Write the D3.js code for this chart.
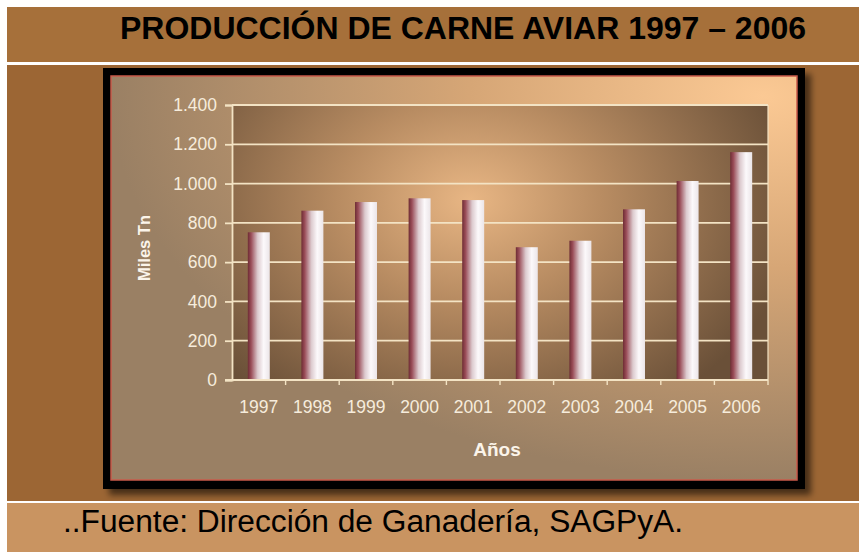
<!DOCTYPE html>
<html>
<head>
<meta charset="utf-8">
<script src="https://cdn.jsdelivr.net/npm/d3@7"></script>
<style>
  html, body { margin: 0; padding: 0; background: #ffffff; }
  svg { display: block; }
</style>
</head>
<body>
<div id="chart"></div>
<script>
/* ===== Data ===== */
const years = ["1997", "1998", "1999", "2000", "2001", "2002", "2003", "2004", "2005", "2006"];
const production = [752, 862, 906, 925, 916, 676, 709, 869, 1013, 1160];
const yTicks = [0, 200, 400, 600, 800, 1000, 1200, 1400];

const titleText = "PRODUCCIÓN DE CARNE AVIAR 1997 – 2006";
const sourceText = "..Fuente: Dirección de Ganadería, SAGPyA.";

/* ===== Constants ===== */
const width = 859, height = 552;
const plot = {left: 232, right: 768, top: 105, bottom: 380};
const frame = {x: 103, y: 68, w: 702, h: 421};
const tickFont = "'Liberation Sans', Arial, sans-serif";

const svg = d3.select("#chart").append("svg")
              .attr("width", width)
              .attr("height", height);

const defs = svg.append("defs");

// outer chart background: grey-brown on the left, peach at top right
const bg = defs.append("radialGradient").attr("id", "bgGrad")
               .attr("cx", "95%").attr("cy", "5%").attr("r", "95%");
bg.append("stop").attr("offset", "0%").attr("stop-color", "#fbc994");
bg.append("stop").attr("offset", "45%").attr("stop-color", "#d6a676");
bg.append("stop").attr("offset", "100%").attr("stop-color", "#9a8064");

// plot area: a soft light spot in the middle, dark brown at the edges
const pg = defs.append("radialGradient").attr("id", "plotGrad")
               .attr("gradientUnits", "userSpaceOnUse")
               .attr("cx", 470).attr("cy", 200).attr("r", 330)
               .attr("gradientTransform", "translate(470,200) scale(1,0.75) translate(-470,-200)");
pg.append("stop").attr("offset", "0%").attr("stop-color", "#e8b684");
pg.append("stop").attr("offset", "40%").attr("stop-color", "#b88c62");
pg.append("stop").attr("offset", "100%").attr("stop-color", "#6a5038");

// bars: maroon on the left edge going to white
const bar = defs.append("linearGradient").attr("id", "barGrad")
                .attr("x1", "0%").attr("x2", "100%").attr("y1", "0%").attr("y2", "0%");
bar.append("stop").attr("offset", "0%").attr("stop-color", "#6e2c34");
bar.append("stop").attr("offset", "15%").attr("stop-color", "#9a4d58");
bar.append("stop").attr("offset", "45%").attr("stop-color", "#dccace");
bar.append("stop").attr("offset", "72%").attr("stop-color", "#fcf9fb");
bar.append("stop").attr("offset", "100%").attr("stop-color", "#ebe5e8");

const shadow = defs.append("filter").attr("id", "shadow")
                   .attr("x", "-5%").attr("y", "-5%").attr("width", "115%").attr("height", "115%");
shadow.append("feDropShadow").attr("dx", 6).attr("dy", 6).attr("stdDeviation", 3)
      .attr("flood-color", "#000").attr("flood-opacity", 0.55);

/* ===== Page bands ===== */
svg.append("rect").attr("x", 7).attr("y", 7).attr("width", width - 7).attr("height", 55).attr("fill", "#a6703a");
svg.append("rect").attr("x", 7).attr("y", 65).attr("width", width - 7).attr("height", 436).attr("fill", "#9c6634");
svg.append("rect").attr("x", 7).attr("y", 503).attr("width", width - 7).attr("height", height - 503).attr("fill", "#c99461");

svg.append("text")
   .attr("x", 120).attr("y", 39)
   .attr("textLength", 686).attr("lengthAdjust", "spacingAndGlyphs")
   .style("font-family", "'Liberation Sans Narrow', 'Liberation Sans', Arial, sans-serif")
   .style("font-weight", "bold").style("font-size", "31px")
   .attr("fill", "#000")
   .text(titleText);

svg.append("text")
   .attr("x", 63).attr("y", 532)
   .attr("textLength", 620).attr("lengthAdjust", "spacingAndGlyphs")
   .style("font-family", "'Liberation Sans', Arial, sans-serif")
   .style("font-size", "31px")
   .attr("fill", "#000")
   .text(sourceText);

/* ===== Chart frame ===== */
svg.append("rect")
   .attr("x", frame.x).attr("y", frame.y).attr("width", frame.w).attr("height", frame.h)
   .attr("fill", "#000").attr("filter", "url(#shadow)");
svg.append("rect")
   .attr("x", frame.x + 8).attr("y", frame.y + 8).attr("width", frame.w - 16).attr("height", frame.h - 17)
   .attr("fill", "url(#bgGrad)").attr("stroke", "#c85a4a").attr("stroke-width", 1.5);

svg.append("rect")
   .attr("x", plot.left).attr("y", plot.top)
   .attr("width", plot.right - plot.left).attr("height", plot.bottom - plot.top)
   .attr("fill", "url(#plotGrad)");

/* ===== Scales ===== */
const x = d3.scaleBand()
            .domain(years)
            .range([plot.left, plot.right])
            .paddingInner(0.59)
            .paddingOuter(0.295);

const y = d3.scaleLinear()
            .domain([0, 1400])
            .range([plot.bottom, plot.top]);

const locale = d3.formatLocale({decimal: ",", thousands: ".", grouping: [3], currency: ["", ""]});
const fmt = locale.format(",d");

const lineColor = "#f3e3c4";
const labelColor = "#f6ecdc";

// gridlines
svg.append("g")
   .selectAll("line")
   .data(yTicks.filter(d => d > 0))
   .join("line")
   .attr("x1", plot.left).attr("x2", plot.right)
   .attr("y1", d => y(d)).attr("y2", d => y(d))
   .attr("stroke", lineColor).attr("stroke-width", 1.8);

// right edge of the plot
svg.append("line")
   .attr("x1", plot.right).attr("x2", plot.right)
   .attr("y1", plot.top).attr("y2", plot.bottom)
   .attr("stroke", lineColor).attr("stroke-width", 1.2);

/* ===== Bars ===== */
svg.append("g")
   .selectAll("rect")
   .data(years.map((yr, i) => ({year: yr, value: production[i]})))
   .join("rect")
   .attr("x", d => x(d.year))
   .attr("y", d => y(d.value))
   .attr("width", x.bandwidth())
   .attr("height", d => y(0) - y(d.value))
   .attr("fill", "url(#barGrad)");

/* ===== Axes ===== */
const yAxis = d3.axisLeft(y).tickValues(yTicks).tickSize(7).tickPadding(8).tickFormat(fmt);
const yG = svg.append("g")
              .attr("transform", `translate(${plot.left},0)`)
              .call(yAxis);
yG.select(".domain").attr("stroke", lineColor).attr("stroke-width", 1.8);
yG.selectAll(".tick line").attr("stroke", lineColor).attr("stroke-width", 1.8);
yG.selectAll(".tick text")
  .attr("fill", labelColor)
  .style("font-family", tickFont)
  .style("font-size", "17.5px");

// x axis: baseline with ticks at the category borders
const xG = svg.append("g").attr("transform", `translate(0,${plot.bottom})`);
xG.append("line")
  .attr("x1", plot.left - 7).attr("x2", plot.right)
  .attr("stroke", lineColor).attr("stroke-width", 1.8);
xG.selectAll("line.tick")
  .data(years.slice(1).concat(["end"]))
  .join("line")
  .attr("class", "tick")
  .attr("x1", (d, i) => i < years.length - 1 ? x(d) - x.step() * x.paddingInner() / 2 : plot.right)
  .attr("x2", (d, i) => i < years.length - 1 ? x(d) - x.step() * x.paddingInner() / 2 : plot.right)
  .attr("y1", 0).attr("y2", 5)
  .attr("stroke", lineColor).attr("stroke-width", 1.4);
xG.selectAll("text")
  .data(years)
  .join("text")
  .attr("x", d => x(d) + x.bandwidth() / 2)
  .attr("y", 33)
  .attr("text-anchor", "middle")
  .attr("fill", labelColor)
  .style("font-family", tickFont)
  .style("font-size", "17.5px")
  .text(d => d);

/* ===== Axis titles ===== */
svg.append("text")
   .attr("transform", `translate(150,248) rotate(-90)`)
   .attr("text-anchor", "middle")
   .attr("fill", "#fbf4ea")
   .style("font-family", "'Liberation Sans', Arial, sans-serif")
   .style("font-weight", "bold").style("font-size", "16.5px")
   .text("Miles Tn");

svg.append("text")
   .attr("x", 497).attr("y", 456)
   .attr("text-anchor", "middle")
   .attr("fill", "#fbf4ea")
   .style("font-family", "'Liberation Sans', Arial, sans-serif")
   .style("font-weight", "bold").style("font-size", "19px")
   .text("Años");
</script>
</body>
</html>
